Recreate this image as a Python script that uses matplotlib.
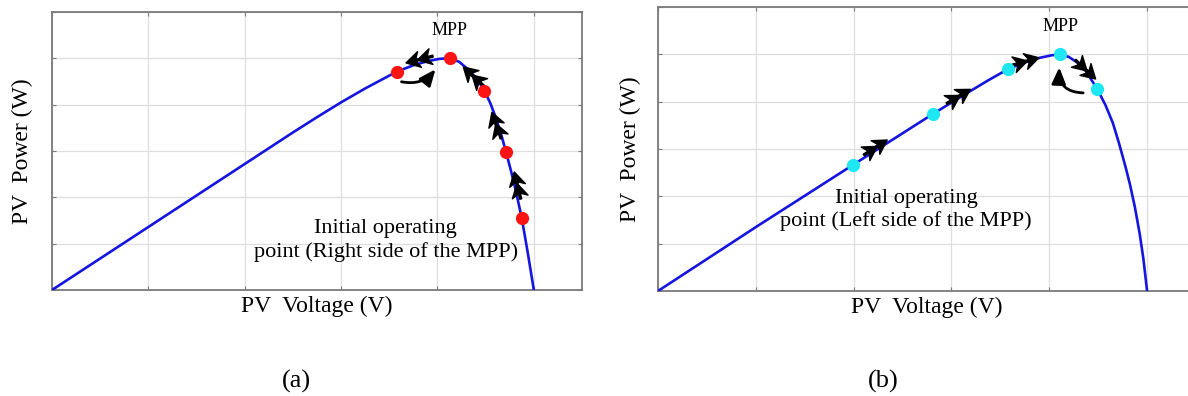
import matplotlib.pyplot as plt
import numpy as np
from matplotlib.path import Path
from matplotlib.markers import MarkerStyle
from matplotlib.transforms import Affine2D, offset_copy

plt.rcParams['font.family'] = ['Liberation Serif', 'DejaVu Serif']

# P-V curve for case (a): tracker starts right of the MPP
volt_a = [0, 10, 11, 12, 13, 14.3, 15, 15.6, 16.1, 16.5, 16.9, 17.3, 17.65, 17.95,
          18.2, 18.4, 18.65, 18.85, 19.05, 19.25, 19.5, 19.75, 20.0]
power_a = [0, 68, 74.6, 81, 87, 94.2, 97, 98.8, 99.8, 100, 98.5, 95, 91, 86,
           80.5, 75, 67, 59.4, 51.5, 43, 31, 16, 0]
# operating points visited by the tracker, in order
track_volt_a = [19.5, 18.85, 17.95, 16.5, 14.3]
track_power_a = [31, 59.4, 86, 100, 94.2]

# P-V curve for case (b): tracker starts left of the MPP
volt_b = [0, 4, 7.96, 11.24, 12.5, 13.5, 14.32, 15.0, 15.6, 16.1, 16.45, 16.8, 17.15,
          17.5, 17.96, 18.3, 18.6, 18.85, 19.12, 19.3, 19.5, 19.7, 19.85, 20.0]
power_b = [0, 27, 53.2, 74.8, 82.8, 89, 93.8, 96.6, 98.5, 99.6, 100, 98.9, 96.5,
           92.8, 85.4, 78.5, 71, 62.5, 52.4, 45, 35.5, 24, 13.5, 0]
track_volt_b = [7.96, 11.24, 14.32, 16.45, 17.96]
track_power_b = [53.2, 74.8, 93.8, 100, 85.4]

note_a = "Initial operating\npoint (Right side of the MPP)"
note_b = "Initial operating\npoint (Left side of the MPP)"

LINE = '#1515e0'
GRID = '#dedede'
FRAME = '#7a7a7a'


def double_chevron():
    verts = [(1.0, 0), (0.0, 0.58), (0.3, 0), (0.0, -0.58), (1.0, 0),
             (0.15, 0), (-0.85, 0.58), (-0.55, 0), (-0.85, -0.58), (0.15, 0),
             (-1.0, -0.07), (0.3, -0.07), (0.3, 0.07), (-1.0, 0.07), (-1.0, -0.07)]
    codes = [Path.MOVETO, Path.LINETO, Path.LINETO, Path.LINETO, Path.CLOSEPOLY] * 3
    return Path(verts, codes)


CHEVRON = double_chevron()


def draw_panel(ax, volt, power, tv, tp, dot_color, note, note_xy, fracs, offs, back):
    ax.set_xlim(0, 22)
    ax.set_ylim(0, 120)
    ax.set_xticks(np.arange(0, 22, 4))
    ax.set_yticks(np.arange(0, 121, 20))
    ax.grid(True, color=GRID, lw=0.9)
    ax.tick_params(direction='in', length=3, width=0.8, colors=FRAME,
                   top=True, right=True, labelbottom=False, labelleft=False)
    for sp in ax.spines.values():
        sp.set_color(FRAME)
        sp.set_linewidth(1.3)

    ax.plot(volt, power, color=LINE, lw=1.9, zorder=3, solid_joinstyle='round')

    # direction chevrons between successive operating points
    to_disp = ax.transData
    to_data = ax.transData.inverted()
    for i in range(len(tv) - 1):
        d0 = to_disp.transform((tv[i], tp[i]))
        d1 = to_disp.transform((tv[i + 1], tp[i + 1]))
        v = d1 - d0
        u = v / np.hypot(*v)
        n = np.array([-u[1], u[0]])
        pos = d0 + fracs[i] * v + offs[i] * n
        ang = np.degrees(np.arctan2(v[1], v[0]))
        x, y = to_data.transform(pos)
        ms = MarkerStyle(CHEVRON, transform=Affine2D().rotate_deg(ang))
        ax.plot([x], [y], marker=ms, ms=20, color='k', ls='none', zorder=5)

    # curved arrow from the last point back to the MPP
    (sx, sy), (ex, ey), rad = back
    fig = ax.figure
    ax.annotate('', xy=(tv[3], tp[3]),
                xycoords=offset_copy(ax.transData, fig=fig, x=ex, y=ey, units='dots'),
                xytext=(tv[4], tp[4]),
                textcoords=offset_copy(ax.transData, fig=fig, x=sx, y=sy, units='dots'),
                arrowprops=dict(arrowstyle='-|>,head_length=0.7,head_width=0.3',
                                connectionstyle=f'arc3,rad={rad}', color='k', lw=2,
                                shrinkA=0, shrinkB=0, mutation_scale=14),
                zorder=5)

    ax.plot(tv, tp, 'o', color=dot_color, ms=9.5, mec='none', zorder=6)

    ax.annotate('MPP', xy=(tv[3], tp[3]), xytext=(0, 20), textcoords='offset points',
                ha='center', va='center', fontsize=13)
    ax.text(note_xy[0], note_xy[1], note, ha='center', va='center',
            fontsize=16, linespacing=1.25)

    ax.set_xlabel('PV  Voltage (V)', fontsize=17, labelpad=4)


fig = plt.figure(figsize=(11.88, 3.96), dpi=100)
ax_a = fig.add_axes([52 / 1188, 1 - 290 / 396, 530 / 1188, 278 / 396])
ax_b = fig.add_axes([658 / 1188, 1 - 291 / 396, 538 / 1188, 284 / 396])

draw_panel(ax_a, volt_a, power_a, track_volt_a, track_power_a, '#ff1414', note_a,
           (13.85, 21.5), [0.5, 0.45, 0.4, 0.55], [-3, 0, -3, -7],
           ((5, -10), (-14, -11), 0.3))
draw_panel(ax_b, volt_b, power_b, track_volt_b, track_power_b, '#1ee6f2', note_b,
           (10.15, 34.3), [0.3, 0.35, 0.33, 0.55], [3, 3, 3, 6],
           ((-14, -4), (-1, -13), -0.5))

ax_a.set_ylabel('PV  Power (W)', fontsize=17, labelpad=14)
ax_b.set_ylabel('PV  Power (W)', fontsize=17, labelpad=12)

fig.text(296 / 1188, 1 - 381 / 396, '(a)', ha='center', va='center', fontsize=19)
fig.text(883 / 1188, 1 - 381 / 396, '(b)', ha='center', va='center', fontsize=19)

fig.savefig('out.png', dpi=100)
